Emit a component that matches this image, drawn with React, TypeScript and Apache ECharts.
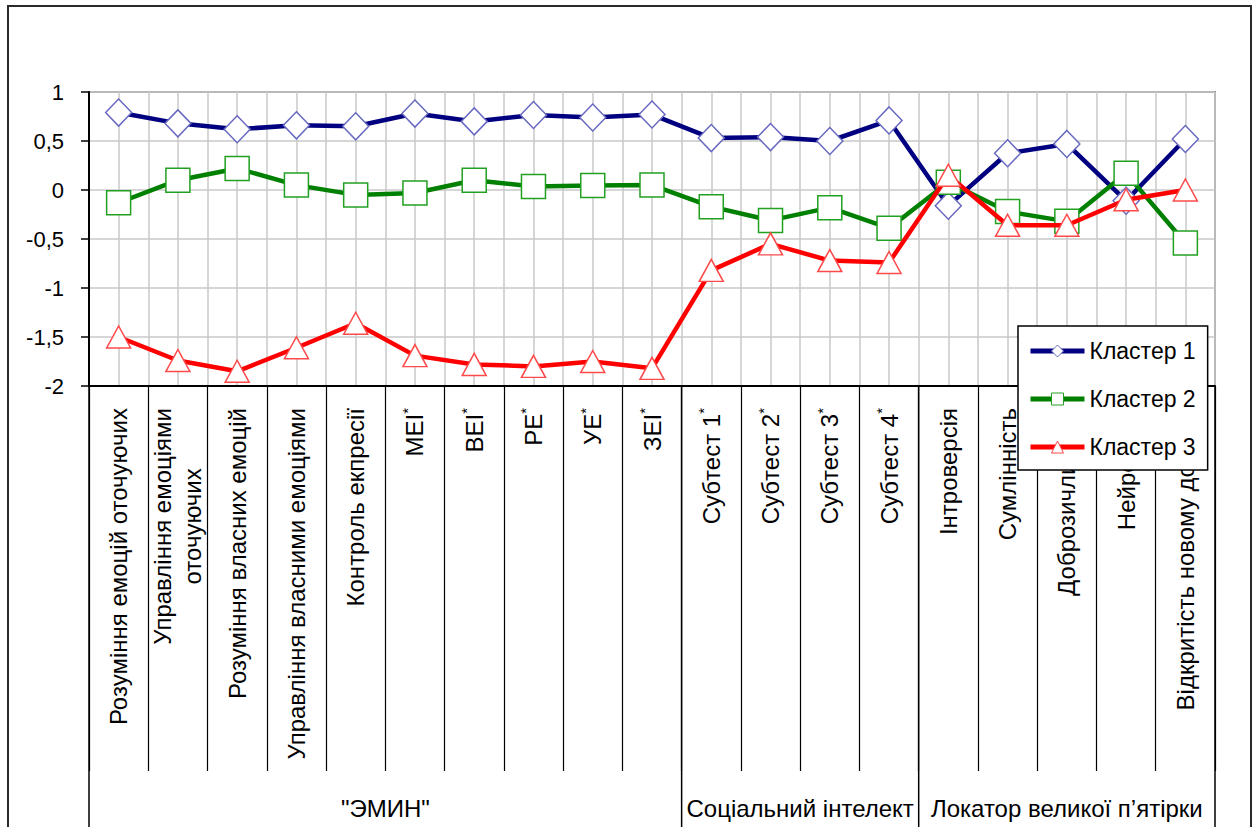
import React, { useEffect, useRef } from 'react';
import * as echarts from 'echarts';

const categories = [
  'Розуміння емоцій оточуючих',
  'Управління емоціями\nоточуючих',
  'Розуміння власних емоцій',
  'Управління власними емоціями',
  'Контроль екпресії',
  'МЕІ*',
  'ВЕІ*',
  'РЕ*',
  'УЕ*',
  'ЗЕІ*',
  'Субтест 1*',
  'Субтест 2*',
  'Субтест 3*',
  'Субтест 4*',
  'Інтроверсія',
  'Сумлінність',
  'Доброзичливість',
  'Нейротизм',
  'Відкритість новому досвіду',
];

const groupNames = ['"ЭМИН"', 'Соціальний інтелект', 'Локатор великої п’ятірки'];
const groupSizes = [10, 4, 5];

const seriesNames = ['Кластер 1', 'Кластер 2', 'Кластер 3'];
const cluster1 = [0.79, 0.68, 0.62, 0.66, 0.65, 0.78, 0.7, 0.765, 0.74, 0.77, 0.53, 0.54, 0.5, 0.71, -0.16, 0.375, 0.47, -0.11, 0.52];
const cluster2 = [-0.13, 0.1, 0.22, 0.05, -0.05, -0.03, 0.1, 0.035, 0.045, 0.05, -0.17, -0.31, -0.18, -0.39, 0.08, -0.22, -0.32, 0.17, -0.54];
const cluster3 = [-1.5, -1.74, -1.85, -1.61, -1.36, -1.69, -1.78, -1.8, -1.75, -1.82, -0.82, -0.55, -0.72, -0.74, 0.15, -0.36, -0.36, -0.1, 0.0];

const yMin = -2;
const yMax = 1;
const yStep = 0.5;

const FONT = 'Liberation Sans, Arial, sans-serif';
const W = 1257;
const H = 827;
const GRID = { left: 89, top: 92, right: 42, bottom: 441 };
const GROUP_LABEL_Y = 808;

export default function App() {
  const ref = useRef<HTMLDivElement>(null);

  useEffect(() => {
    document.body.style.margin = '0';
    const chart = echarts.init(ref.current as HTMLDivElement, null, { renderer: 'svg' });

    const labelFormatter = (v: string) =>
      v
        .split('\n')
        .map((line) => (line.endsWith('*') ? `{c|${line.slice(0, -1)}}{s|*}` : `{c|${line}}`))
        .join('\n');

    const styles = [
      { data: cluster1, line: '#000080', border: '#6868c0', symbol: 'diamond', size: [26, 27] },
      { data: cluster2, line: '#008000', border: '#22a022', symbol: 'rect', size: [24, 24] },
      { data: cluster3, line: '#ff0000', border: '#ff4a4a', symbol: 'triangle', size: [24, 22] },
    ];

    chart.setOption({
      animation: false,
      grid: {
        left: GRID.left,
        top: GRID.top,
        right: GRID.right,
        bottom: GRID.bottom,
        show: true,
        borderColor: '#8a8a8a',
        borderWidth: 2,
        backgroundColor: 'transparent',
      },
      legend: {
        data: seriesNames,
        orient: 'vertical',
        left: 1018,
        top: 326,
        itemWidth: 54,
        itemHeight: 15,
        itemGap: 24,
        padding: [13, 12, 11, 10],
        backgroundColor: '#ffffff',
        borderColor: '#000000',
        borderWidth: 1.5,
        borderRadius: 0,
        lineStyle: { width: 5 },
        textStyle: { fontSize: 23, color: '#000', fontFamily: FONT, lineHeight: 24, padding: [0, 0, 0, 0] },
        itemStyle: { borderWidth: 1 },
        z: 20,
      },
      xAxis: [
        {
          type: 'category',
          data: categories,
          position: 'bottom',
          boundaryGap: true,
          axisLine: { show: true, onZero: false, lineStyle: { color: '#000', width: 2 } },
          axisTick: { show: true, interval: 0, length: 385, lineStyle: { color: '#000', width: 1.2 } },
          splitLine: { show: false },
          axisLabel: {
            interval: 0,
            rotate: 90,
            margin: 22,
            color: '#000',
            fontFamily: FONT,
            fontSize: 24,
            formatter: labelFormatter,
            rich: {
              c: { fontSize: 24, fontFamily: FONT, color: '#000', align: 'center', lineHeight: 30 },
              s: { fontSize: 15, fontFamily: FONT, color: '#000', align: 'center', verticalAlign: 'top', lineHeight: 15 },
            },
          },
        },
        {
          type: 'value',
          position: 'top',
          min: 0,
          max: categories.length,
          interval: 0.5,
          axisLine: { show: false, onZero: false },
          axisTick: { show: false },
          axisLabel: { show: false },
          splitLine: { show: true, lineStyle: { color: '#c8c8c8', width: 1.5 } },
        },
      ],
      yAxis: {
        type: 'value',
        min: yMin,
        max: yMax,
        interval: yStep,
        axisLine: { show: true, onZero: false, lineStyle: { color: '#000', width: 2 } },
        axisTick: { show: true, length: 8, lineStyle: { color: '#000', width: 1.5 } },
        axisLabel: {
          margin: 25,
          color: '#000',
          fontFamily: FONT,
          fontSize: 22,
          formatter: (v: number) => String(v).replace('.', ','),
        },
        splitLine: { show: true, lineStyle: { color: '#c8c8c8', width: 1.5 } },
      },
      series: styles.map((s, i) => ({
        name: seriesNames[i],
        type: 'line',
        xAxisIndex: 0,
        yAxisIndex: 0,
        data: s.data,
        symbol: s.symbol,
        symbolSize: s.size,
        showAllSymbol: true,
        lineStyle: { color: s.line, width: 4.5 },
        itemStyle: { color: '#ffffff', borderColor: s.border, borderWidth: 1.5 },
        emphasis: { disabled: true },
        z: 3 + i,
      })),
    });

    const yBottom = chart.convertToPixel({ yAxisIndex: 0 }, yMin) as number;
    const bounds: number[] = [0];
    groupSizes.forEach((n) => bounds.push(bounds[bounds.length - 1] + n));

    const graphics: any[] = [
      {
        type: 'rect',
        shape: { x: 8, y: 6, width: 1243, height: 840 },
        style: { fill: 'none', stroke: '#2a2a2a', lineWidth: 2 },
        z: 0,
        silent: true,
      },
    ];
    bounds.forEach((b) => {
      const x = chart.convertToPixel({ xAxisIndex: 1 }, b) as number;
      graphics.push({
        type: 'line',
        shape: { x1: x, y1: yBottom, x2: x, y2: H },
        style: { stroke: '#000', lineWidth: 1.5 },
        silent: true,
      });
    });
    groupNames.forEach((name, i) => {
      const x0 = chart.convertToPixel({ xAxisIndex: 1 }, bounds[i]) as number;
      const x1 = chart.convertToPixel({ xAxisIndex: 1 }, bounds[i + 1]) as number;
      graphics.push({
        type: 'text',
        x: (x0 + x1) / 2,
        y: GROUP_LABEL_Y,
        style: {
          text: name,
          fontSize: 24,
          fontFamily: FONT,
          fill: '#000',
          align: 'center',
          verticalAlign: 'middle',
        },
        silent: true,
      });
    });
    chart.setOption({ graphic: graphics });

    return () => chart.dispose();
  }, []);

  return <div ref={ref} style={{ width: W, height: H }} />;
}
